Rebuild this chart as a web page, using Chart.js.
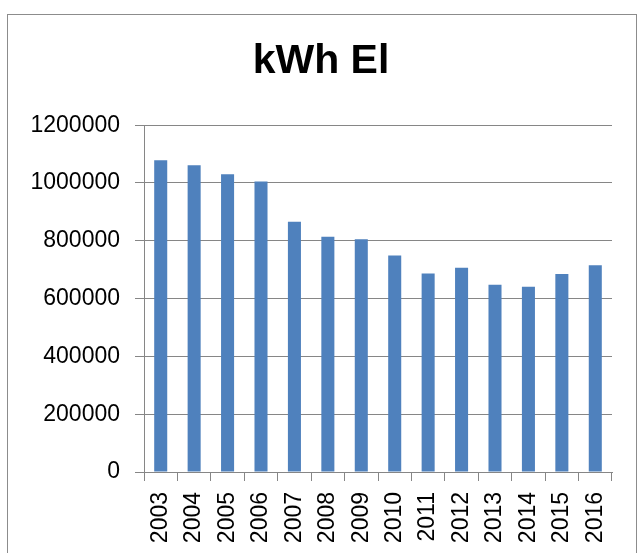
<!DOCTYPE html>
<html>
<head>
<meta charset="utf-8">
<script src="https://cdn.jsdelivr.net/npm/chart.js@4"></script>
<style>
    html, body { margin: 0; padding: 0; background: #fff; }
    #wrap { width: 642px; height: 553px; position: relative; }
</style>
</head>
<body>
<div id="wrap"><canvas id="myChart" width="642" height="553"></canvas></div>
<script>
const years = ['2003', '2004', '2005', '2006', '2007', '2008', '2009', '2010', '2011', '2012', '2013', '2014', '2015', '2016'];
const kwhValues = [1079000, 1061000, 1030000, 1005000, 866000, 814000, 805000, 749000, 687000, 707000, 648000, 641000, 685000, 715000];
const chartTitle = 'kWh El';

const gridGray = '#868686';

// frame around the whole chart, like the spreadsheet export
const framePlugin = {
    id: 'frame',
    beforeDraw: (chart) => {
        const ctx = chart.ctx;
        ctx.save();
        ctx.fillStyle = '#fff';
        ctx.fillRect(0, 0, chart.width, chart.height);
        ctx.strokeStyle = '#8c8c8c';
        ctx.lineWidth = 1;
        ctx.strokeRect(7.5, 14.5, 629, 600);
        ctx.restore();
    },
};

const initChartBar = (labels, data) => {
    const ctx = document.getElementById('myChart');

    return new Chart(ctx, {
        type: 'bar',
        data: {
            labels,
            datasets: [
                {
                    backgroundColor: '#4F81BD',
                    borderWidth: 0,
                    data,
                    barPercentage: 0.39,
                    categoryPercentage: 1,
                },
            ],
        },
        options: {
            responsive: false,
            animation: false,
            layout: { padding: { left: 30, right: 30, top: 0, bottom: 0 } },
            plugins: {
                legend: { display: false },
                tooltip: { enabled: false },
                title: {
                    display: true,
                    text: chartTitle,
                    color: '#000',
                    font: { family: 'Liberation Sans', size: 41, weight: 'bold', lineHeight: 1.2 },
                    padding: { top: 37, bottom: 39 },
                },
            },
            scales: {
                x: {
                    grid: {
                        display: true,
                        drawOnChartArea: false,
                        drawTicks: true,
                        tickLength: 9,
                        color: gridGray,
                        offset: true,
                    },
                    border: { color: gridGray, width: 1 },
                    ticks: {
                        color: '#000',
                        font: { family: 'Liberation Sans', size: 23 },
                        minRotation: 90,
                        maxRotation: 90,
                        padding: 11,
                        autoSkip: false,
                    },
                    afterFit: (scale) => { scale.height = 81; },
                },
                y: {
                    min: 0,
                    max: 1200000,
                    grid: {
                        color: gridGray,
                        lineWidth: 1,
                        tickLength: 9,
                    },
                    border: { color: gridGray, width: 1 },
                    ticks: {
                        stepSize: 200000,
                        color: '#000',
                        font: { family: 'Liberation Sans', size: 23 },
                        padding: 15,
                        callback: (value) => String(value),
                    },
                    afterFit: (scale) => { scale.width = 114; },
                },
            },
        },
        plugins: [framePlugin],
    });
};

let chart = initChartBar(years, kwhValues);
</script>
</body>
</html>
